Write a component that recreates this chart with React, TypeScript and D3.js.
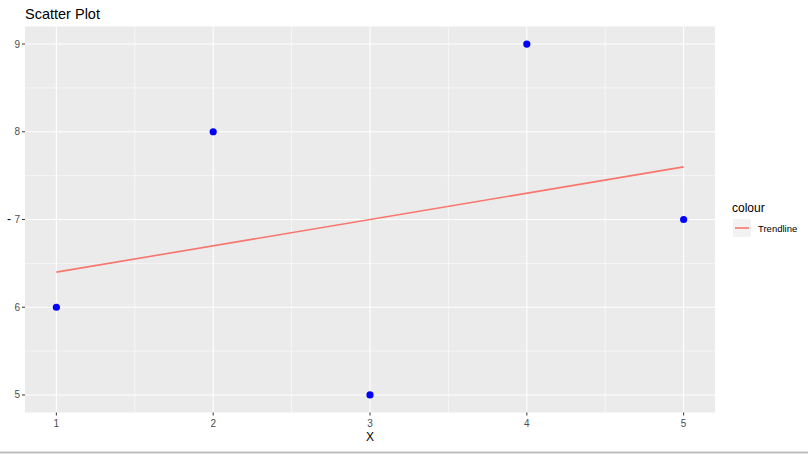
import React from "react";
import * as d3 from "d3";

const xValues = [1, 2, 3, 4, 5];
const yValues = [6, 8, 5, 9, 7];
const xTicks = [1, 2, 3, 4, 5];
const yTicks = [5, 6, 7, 8, 9];
const xMinor = [1.5, 2.5, 3.5, 4.5];
const yMinor = [5.5, 6.5, 7.5, 8.5];

export default function App() {
  const W = 808, H = 454;
  const left = 25, right = 715, top = 26.5, bottom = 412.5;
  const x = d3.scaleLinear().domain([0.8, 5.2]).range([left, right]);
  const y = d3.scaleLinear().domain([4.8, 9.2]).range([bottom, top]);
  const mx = d3.mean(xValues)!, my = d3.mean(yValues)!;
  const slope = d3.sum(xValues.map((v, i) => (v - mx) * (yValues[i] - my))) /
    d3.sum(xValues.map((v) => (v - mx) ** 2));
  const intercept = my - slope * mx;
  const xmin = d3.min(xValues)!, xmax = d3.max(xValues)!;
  const line = d3.line<number>().x((d) => x(d)).y((d) => y(intercept + slope * d));
  const font = "Liberation Sans, Arial, sans-serif";
  return (
    <svg width={W} height={H} style={{ position: "absolute", left: 0, top: 0 }} fontFamily={font}>
      <rect x={0} y={0} width={W} height={H} fill="white" />
      <rect x={left} y={top} width={right - left} height={bottom - top} fill="#EBEBEB" />
      {xMinor.map((t) => (
        <line key={"xm" + t} x1={x(t)} x2={x(t)} y1={top} y2={bottom} stroke="white" strokeWidth={0.55} />
      ))}
      {yMinor.map((t) => (
        <line key={"ym" + t} x1={left} x2={right} y1={y(t)} y2={y(t)} stroke="white" strokeWidth={0.55} />
      ))}
      {xTicks.map((t) => (
        <line key={"x" + t} x1={x(t)} x2={x(t)} y1={top} y2={bottom} stroke="white" strokeWidth={1.1} />
      ))}
      {yTicks.map((t) => (
        <line key={"y" + t} x1={left} x2={right} y1={y(t)} y2={y(t)} stroke="white" strokeWidth={1.1} />
      ))}
      <path d={line([xmin, xmax])!} stroke="#F8766D" strokeWidth={1.6} fill="none" />
      {xValues.map((v, i) => (
        <circle key={i} cx={x(v)} cy={y(yValues[i])} r={3.6} fill="#0000FF" />
      ))}
      {xTicks.map((t) => (
        <g key={"xt" + t}>
          <line x1={x(t)} x2={x(t)} y1={bottom} y2={bottom + 3} stroke="#333333" strokeWidth={1} />
          <text x={x(t)} y={bottom + 14} textAnchor="middle" fontSize={10} fill="#4D4D4D">{t}</text>
        </g>
      ))}
      {yTicks.map((t) => (
        <g key={"yt" + t}>
          <line x1={left - 3} x2={left} y1={y(t)} y2={y(t)} stroke="#333333" strokeWidth={1} />
          <text x={left - 5} y={y(t) + 3.5} textAnchor="end" fontSize={10} fill="#4D4D4D">{t}</text>
        </g>
      ))}
      <text x={(left + right) / 2} y={441} textAnchor="middle" fontSize={12} fill="black">X</text>
      <text x={9} y={223} textAnchor="middle" fontSize={12} fill="black">-</text>
      <text x={25} y={19} fontSize={14.5} fill="black">Scatter Plot</text>
      <text x={732} y={212} fontSize={12} fill="black">colour</text>
      <rect x={733} y={219} width={18} height={18} fill="#F2F2F2" />
      <line x1={735} x2={749} y1={228} y2={228} stroke="#F8766D" strokeWidth={1.6} />
      <text x={758} y={232} fontSize={9.5} fill="black">Trendline</text>
      <line x1={0} x2={W} y1={452.5} y2={452.5} stroke="#BDBDBD" strokeWidth={2} />
    </svg>
  );
}
